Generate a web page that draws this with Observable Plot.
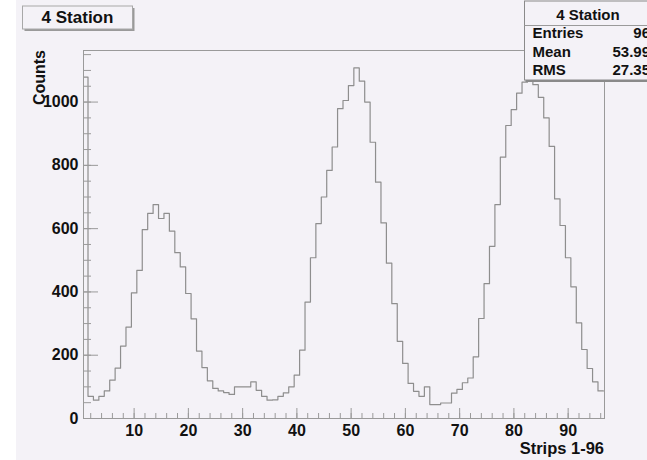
<!DOCTYPE html>
<html>
<head>
<meta charset="utf-8">
<script src="https://cdn.jsdelivr.net/npm/d3@7"></script>
<script src="https://cdn.jsdelivr.net/npm/@observablehq/plot@0.6"></script>
<style>
  html, body { margin: 0; padding: 0; background: #ffffff; }
  #chart { position: relative; width: 647px; height: 460px; overflow: hidden; }
  #chart svg { display: block; }
</style>
</head>
<body>
<div id="chart"></div>
<script>
// Histogram contents: counts per strip, strips 1..96
const strips = d3.range(1, 97);
const counts = [
  1079, 70, 58, 70, 87, 121, 159, 229, 289, 397,
  468, 597, 648, 676, 632, 648, 592, 524, 479, 395,
  315, 213, 161, 119, 95, 87, 82, 76, 100, 100,
  100, 116, 89, 70, 58, 59, 70, 81, 100, 137,
  216, 368, 508, 616, 700, 784, 858, 979, 1005, 1052,
  1108, 1066, 1000, 873, 747, 618, 491, 363, 244, 174,
  111, 86, 70, 100, 44, 44, 49, 49, 80, 92,
  113, 128, 195, 316, 426, 544, 676, 826, 926, 976,
  1028, 1063, 1090, 1055, 1015, 950, 860, 694, 610, 508,
  416, 302, 218, 158, 116, 87
];

// Axis ticks and texts
const xMajorTicks = [10, 20, 30, 40, 50, 60, 70, 80, 90];
const xMinorTicks = d3.range(2, 97, 2);
const yMajorTicks = [0, 200, 400, 600, 800, 1000];
const yMinorTicks = d3.range(0, 1151, 50);
const histTitle = "4 Station";
const xTitle = "Strips 1-96";
const yTitle = "Counts";
const statNames = ["Entries", "Mean", "RMS"];
const statValues = ["96", "53.99", "27.35"];

const padColor = "#f4f2f7";
const axisGray = "#9a9a9a";
const font = "'Liberation Sans', Arial, Helvetica, sans-serif";

// Bin edges for a stepped outline: each bin starts at strip - 0.5,
// and the last bin closes at 96.5
const edges = strips.map((s, i) => ({edge: s - 0.5, count: counts[i]}));
edges.push({edge: strips[strips.length - 1] + 0.5, count: counts[counts.length - 1]});

const chart = Plot.plot({
  width: 647,
  height: 460,
  marginLeft: 83,
  marginRight: 43,
  marginTop: 50,
  marginBottom: 42,
  x: {domain: [0.67, 96.7]},
  y: {domain: [0, 1163]},
  style: {
    background: padColor,
    fontFamily: font,
    fontSize: "16px",
    fontWeight: "bold",
    color: "#111"
  },
  marks: [
    Plot.line(edges, {
      x: "edge", y: "count", curve: "step-after",
      stroke: "#8e8e8e", strokeWidth: 1.2, clip: true
    }),
    // inward minor and major ticks
    Plot.axisX({ticks: xMinorTicks, tickSize: -5, tickFormat: () => "", stroke: axisGray, label: null}),
    Plot.axisX({ticks: xMajorTicks, tickSize: -10, tickFormat: () => "", stroke: axisGray, label: null}),
    Plot.axisY({ticks: yMinorTicks, tickSize: -8, tickFormat: () => "", stroke: axisGray, label: null}),
    Plot.axisY({ticks: yMajorTicks, tickSize: -15, tickFormat: () => "", stroke: axisGray, label: null}),
    // tick labels
    Plot.axisX({ticks: xMajorTicks, tickSize: 0, tickPadding: 6, tickFormat: d3.format("d"), label: null}),
    Plot.axisY({ticks: yMajorTicks, tickSize: 0, tickPadding: 5, tickFormat: d3.format("d"), label: null}),
    Plot.frame({stroke: axisGray})
  ]
});

document.getElementById("chart").appendChild(chart);

const svg = d3.select(chart);

// white canvas strip on the left edge
svg.append("rect").attr("x", 0).attr("y", 0).attr("width", 16).attr("height", 460).attr("fill", "#ffffff");

function label(x, y, anchor, size, str) {
  return svg.append("text")
    .attr("x", x).attr("y", y)
    .attr("text-anchor", anchor)
    .attr("font-family", font).attr("font-weight", "bold").attr("font-size", size)
    .attr("fill", "#111")
    .text(str);
}

// axis titles
svg.append("text")
  .attr("transform", "translate(45,50) rotate(-90)")
  .attr("text-anchor", "end")
  .attr("font-family", font).attr("font-weight", "bold").attr("font-size", 16)
  .attr("fill", "#111")
  .text(yTitle);
label(604, 453.5, "end", 16.5, xTitle);

// title box with shadow
const tb = {x: 22.5, y: 6, w: 110, h: 23};
svg.append("rect").attr("x", tb.x + 2).attr("y", tb.y + 2).attr("width", tb.w).attr("height", tb.h).attr("fill", "#9a9a9a");
svg.append("rect").attr("x", tb.x).attr("y", tb.y).attr("width", tb.w).attr("height", tb.h)
  .attr("fill", padColor).attr("stroke", "#a8a8a8").attr("stroke-width", 1);
label(tb.x + tb.w / 2, tb.y + 17, "middle", 17, histTitle);

// statistics box
const sb = {x: 524.5, y: 1, w: 140, h: 79};
svg.append("rect").attr("x", sb.x + 1).attr("y", sb.y + 2).attr("width", sb.w).attr("height", sb.h).attr("fill", "#8a8a8a");
svg.append("rect").attr("x", sb.x).attr("y", sb.y).attr("width", sb.w).attr("height", sb.h)
  .attr("fill", padColor).attr("stroke", "#8a8a8a").attr("stroke-width", 1);
svg.append("line").attr("x1", sb.x).attr("x2", sb.x + sb.w).attr("y1", 25.5).attr("y2", 25.5)
  .attr("stroke", "#9a9a9a");
label(588, 20, "middle", 15, histTitle);
const rowY = [37.5, 56.5, 74.5];
statNames.forEach((name, i) => {
  label(532.5, rowY[i], "start", 15, name);
  label(650, rowY[i], "end", 15, statValues[i]);
});
</script>
</body>
</html>
